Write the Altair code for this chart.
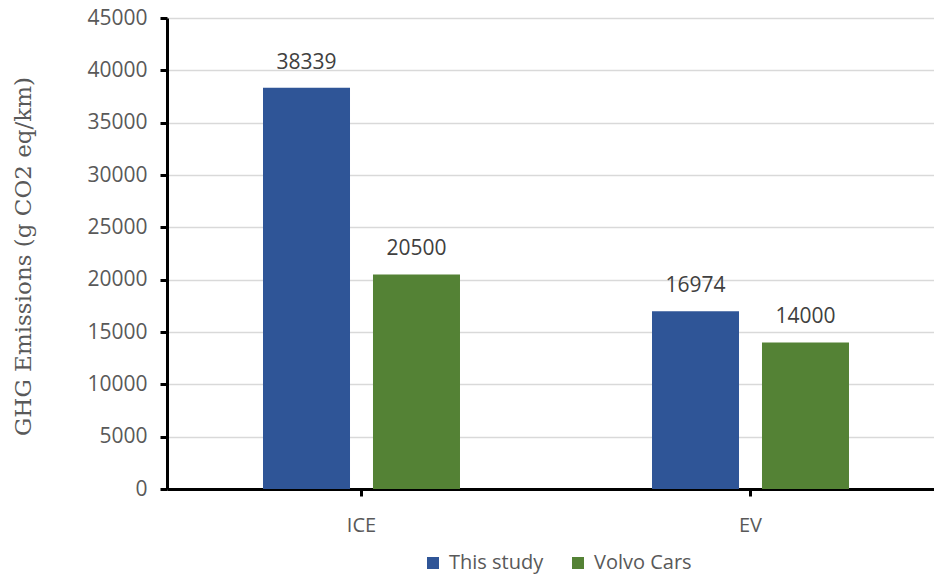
import altair as alt
import pandas as pd

# Life-cycle GHG emissions, grouped by vehicle type
vehicles = ["ICE", "ICE", "EV", "EV"]
sources = ["This study", "Volvo Cars", "This study", "Volvo Cars"]
emissions = [38339, 20500, 16974, 14000]

vehicle_order = ["ICE", "EV"]
source_order = ["This study", "Volvo Cars"]
source_colors = ["#2F5597", "#548235"]
y_ticks = list(range(0, 45001, 5000))

df = pd.DataFrame({"vehicle": vehicles, "source": sources, "emissions": emissions})

label_font = "Open Sans"
gray = "#595959"

x_enc = alt.X(
    "vehicle:N",
    sort=vehicle_order,
    scale=alt.Scale(range=[0, 778], paddingInner=0.4936, paddingOuter=0.2468),
    axis=alt.Axis(
        title=None,
        labelAngle=0,
        labelFont=label_font,
        labelFontSize=20,
        labelColor=gray,
        labelPadding=19,
        domainColor="black",
        domainWidth=3,
        tickColor="black",
        tickWidth=3,
        tickSize=7,
        grid=False,
    ),
)
offset_enc = alt.XOffset(
    "source:N",
    sort=source_order,
    scale=alt.Scale(paddingInner=0.209, paddingOuter=0),
)
y_enc = alt.Y(
    "emissions:Q",
    scale=alt.Scale(domain=[0, 45000], nice=False),
    axis=alt.Axis(
        values=y_ticks,
        format="d",
        title="GHG Emissions (g CO2 eq/km)",
        titleFont="DejaVu Serif",
        titleFontSize=23,
        titleFontWeight="normal",
        titleColor=gray,
        titleAngle=270,
        titleAlign="center",
        titleBaseline="middle",
        titleX=-144,
        titleY=238,
        labelFont=label_font,
        labelFontSize=21,
        labelColor=gray,
        labelPadding=13,
        domainColor="black",
        domainWidth=3,
        tickColor="black",
        tickWidth=3,
        tickSize=7,
        gridColor="#d9d9d9",
        gridWidth=1.5,
    ),
)

bars = alt.Chart(df).mark_bar().encode(
    x=x_enc,
    xOffset=offset_enc,
    y=y_enc,
    color=alt.Color(
        "source:N",
        sort=source_order,
        scale=alt.Scale(domain=source_order, range=source_colors),
        legend=alt.Legend(
            title=None,
            orient="none",
            direction="horizontal",
            legendX=256,
            legendY=535,
            symbolType="square",
            symbolSize=144,
            symbolStrokeWidth=0,
            labelFont=label_font,
            labelFontSize=20,
            labelColor=gray,
            columnPadding=24,
            labelOffset=6,
        ),
    ),
)

labels = alt.Chart(df).mark_text(
    baseline="bottom", dy=-15, font=label_font, fontSize=21, color="#404040"
).encode(
    x=alt.X("vehicle:N", sort=vehicle_order),
    xOffset=alt.XOffset("source:N", sort=source_order),
    y="emissions:Q",
    text="emissions:Q",
)

chart = (
    alt.layer(bars, labels)
    .properties(
        width=767,
        height=471,
        autosize=alt.AutoSizeParams(type="none"),
        padding={"left": 167, "top": 18, "right": 0, "bottom": 85},
    )
    .configure_view(stroke=None)
    .configure(background="white")
)

chart.save("out.html", embed_options={"renderer": "svg", "actions": False})
